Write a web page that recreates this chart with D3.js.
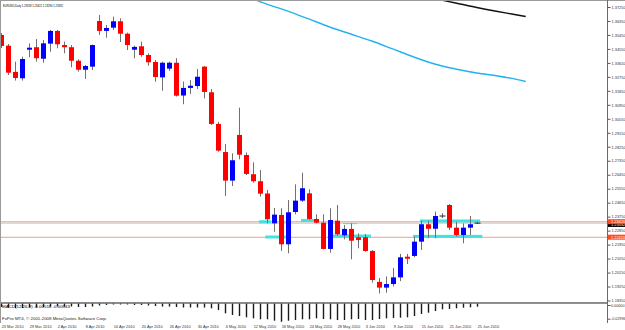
<!DOCTYPE html>
<html><head><meta charset="utf-8">
<script src="https://cdn.jsdelivr.net/npm/d3@7/dist/d3.min.js"></script>
<style>
html,body{margin:0;padding:0;background:#fff;}
svg{display:block;font-family:"Liberation Sans",Arial,sans-serif;}
</style></head><body>
<svg id="c" width="625" height="330"></svg>
<script>
const titleText = "EURUSD,Daily";
const lastOHLC = ["1.23318","1.23422","1.23294","1.23332"];
const copyright = "FxPro MT4, \u00A9 2001-2008 MetaQuotes Software Corp.";
const subTitle = "MACD(12,26,9) -0.00518 -0.00943";

const dates = ["23 Mar 2010","24 Mar 2010","25 Mar 2010","26 Mar 2010","29 Mar 2010","30 Mar 2010","31 Mar 2010",
"1 Apr 2010","2 Apr 2010","5 Apr 2010","6 Apr 2010","7 Apr 2010","8 Apr 2010","9 Apr 2010","12 Apr 2010","13 Apr 2010",
"14 Apr 2010","15 Apr 2010","16 Apr 2010","19 Apr 2010","20 Apr 2010","21 Apr 2010","22 Apr 2010","23 Apr 2010",
"26 Apr 2010","27 Apr 2010","28 Apr 2010","29 Apr 2010","30 Apr 2010",
"3 May 2010","4 May 2010","5 May 2010","6 May 2010","7 May 2010","10 May 2010","11 May 2010","12 May 2010",
"13 May 2010","14 May 2010","17 May 2010","18 May 2010","19 May 2010","20 May 2010","21 May 2010","24 May 2010",
"25 May 2010","26 May 2010","27 May 2010","28 May 2010","31 May 2010",
"1 Jun 2010","2 Jun 2010","3 Jun 2010","4 Jun 2010","7 Jun 2010","8 Jun 2010","9 Jun 2010","10 Jun 2010",
"11 Jun 2010","14 Jun 2010","15 Jun 2010","16 Jun 2010","17 Jun 2010","18 Jun 2010","21 Jun 2010","22 Jun 2010",
"23 Jun 2010","24 Jun 2010","25 Jun 2010"];

const open  = [1.3545,1.3476,1.3307,1.3266,1.3450,1.3466,1.3392,1.3489,1.3571,1.3480,
1.3466,1.3379,1.3321,1.3341,1.3635,1.3571,1.3592,1.3633,1.3553,1.3450,
1.3472,1.3416,1.3371,1.3272,1.3328,1.3366,1.3155,1.3204,1.3216,1.3341,
1.3176,1.2972,1.2791,1.2607,1.2901,1.2772,1.2648,1.2603,1.2524,1.2332,
1.2386,1.2197,1.2405,1.2478,1.2525,1.2360,1.2336,1.2167,1.2349,1.2255,
1.2296,1.2242,1.2242,1.2154,1.1955,1.1918,1.1941,1.1984,1.2117,1.2122,
1.2214,1.2326,1.2297,1.2379,1.2450,1.2304,1.2257,1.2304,1.23318];
const high  = [1.3558,1.3487,1.3373,1.3405,1.3491,1.3519,1.3513,1.3577,1.3577,1.3502,
1.3480,1.3388,1.3352,1.3483,1.3674,1.3609,1.3663,1.3652,1.3560,1.3476,
1.3502,1.3427,1.3384,1.3373,1.3373,1.3395,1.3245,1.3255,1.3326,1.3345,
1.3197,1.2985,1.2843,1.2783,1.3077,1.2789,1.2725,1.2675,1.2547,1.2431,
1.2429,1.2482,1.2583,1.2658,1.2551,1.2390,1.2390,1.2429,1.2450,1.2321,
1.2332,1.2268,1.2263,1.2160,1.1980,1.1990,1.2045,1.2135,1.2135,1.2246,
1.2349,1.2349,1.2407,1.2397,1.2456,1.2342,1.2332,1.2379,1.23422];
const low   = [1.3461,1.3287,1.3251,1.3251,1.3401,1.3373,1.3366,1.3437,1.3459,1.3427,
1.3337,1.3309,1.3262,1.3319,1.3545,1.3527,1.3577,1.3500,1.3448,1.3395,
1.3405,1.3347,1.3244,1.3186,1.3313,1.3148,1.3099,1.3165,1.3197,1.3136,
1.2965,1.2793,1.2508,1.2572,1.2744,1.2643,1.2594,1.2504,1.2332,1.2278,
1.2154,1.2139,1.2390,1.2470,1.2353,1.2332,1.2165,1.2143,1.2252,1.2229,
1.2100,1.2171,1.2149,1.1950,1.1880,1.1885,1.1925,1.1960,1.2070,1.2113,
1.2160,1.2236,1.2236,1.2366,1.2289,1.2246,1.2203,1.2257,1.23294];
const close = [1.3474,1.3302,1.3268,1.3390,1.3463,1.3395,1.3491,1.3571,1.3485,1.3466,
1.3379,1.3321,1.3345,1.3480,1.3571,1.3590,1.3633,1.3553,1.3480,1.3468,
1.3416,1.3369,1.3274,1.3366,1.3366,1.3154,1.3204,1.3218,1.3276,1.3178,
1.2972,1.2800,1.2607,1.2738,1.2774,1.2650,1.2603,1.2523,1.2358,1.2388,
1.2197,1.2403,1.2478,1.2558,1.2360,1.2336,1.2167,1.2353,1.2261,1.2296,
1.2220,1.2225,1.2154,1.1967,1.1918,1.1941,1.1984,1.2113,1.2104,1.2214,
1.2326,1.2297,1.2379,1.2379,1.2304,1.2257,1.2304,1.2326,1.23332];

const macd = [-0.0057,-0.0065,-0.0073,-0.0073,-0.0065,-0.0065,-0.0057,-0.0049,-0.0049,-0.0049,
-0.0049,-0.0057,-0.0057,-0.0049,-0.0032,-0.0024,-0.0016,-0.0016,-0.0016,-0.0024,
-0.0024,-0.0032,-0.0041,-0.0049,-0.0049,-0.0057,-0.0065,-0.0065,-0.0065,-0.0065,
-0.0078,-0.0105,-0.0159,-0.0186,-0.0203,-0.0224,-0.0240,-0.0256,-0.0256,-0.0279,
-0.0295,-0.0279,-0.0268,-0.0256,-0.0256,-0.0240,-0.0251,-0.0256,-0.0268,-0.0268,
-0.0256,-0.0251,-0.0268,-0.0268,-0.0251,-0.0240,-0.0235,-0.0230,-0.0224,-0.0203,
-0.0170,-0.0149,-0.0122,-0.0094,-0.0089,-0.0078,-0.0068,-0.0062,-0.0052];

const maFastIdx = [35,38,41,44,47,50,53,56,59,62,65,68,71,73,75];
const maFast    = [1.3796,1.3744,1.3699,1.3648,1.3596,1.3551,1.3506,1.3455,1.3403,1.3358,1.3326,1.3300,1.3281,1.3265,1.3245];
const maSlowIdx = [62,65,68,71,73,75];
const maSlow    = [1.3777,1.3751,1.3722,1.3696,1.3680,1.3664];

const zoneStart = [36.9,37.8,42.9,47.3,58.9,59.9];
const zoneEnd   = [38.6,40.7,45.3,52.9,68.8,68.5];
const zonePrice = [1.2342,1.2244,1.2350,1.2250,1.2248,1.2347];
const thinZoneStart = [48.9], thinZoneEnd = [50.9], thinZonePrice = [1.2330];

const levelPrices = [1.23420, 1.22420];
const levelLabels = ["1.23420","1.22420"];
const bidPrice = 1.23332;

const priceTicks = [1.18350,1.19250,1.20150,1.21050,1.21950,1.22850,1.23750,1.24650,1.25550,1.26450,
1.27350,1.28250,1.29150,1.30050,1.30950,1.31850,1.32750,1.33650,1.34550,1.35450,1.36350,1.37250];
const dateTicks = [0,4,8,12,16,20,24,28,32,36,40,44,48,52,56,60,64,68];
const macdTickLabels = ["0.00000","-0.02996"];
const macdTickValues = [0,-0.02996];

const svg = d3.select("#c");
const plotR = 607, plotB = 302;
const FS = 3.9;

const x = d3.scaleLinear().domain([0,68]).range([0.7,476.7]);
const y = d3.scaleLinear().domain([1.1835,1.3725]).range([300.5,7]);
const ym = d3.scaleLinear().domain([-0.0300,0]).range([322,303.5]);

svg.append("defs").append("clipPath").attr("id","pc")
  .append("rect").attr("x",0).attr("y",0).attr("width",plotR).attr("height",plotB);

const g = svg.append("g").attr("clip-path","url(#pc)");

// horizontal levels
g.selectAll("line.lvl").data(levelPrices).join("line")
  .attr("x1",0).attr("x2",plotR).attr("y1",d=>y(d)).attr("y2",d=>y(d))
  .attr("stroke","#F6A07C").attr("stroke-width",1);
g.append("line").attr("x1",0).attr("x2",plotR).attr("y1",y(bidPrice)).attr("y2",y(bidPrice))
  .attr("stroke","#b4b4b4").attr("stroke-width",0.8);

// cyan zones
g.selectAll("rect.zone").data(zonePrice).join("rect")
  .attr("x",(d,i)=>x(zoneStart[i])).attr("width",(d,i)=>x(zoneEnd[i])-x(zoneStart[i]))
  .attr("y",d=>y(d)-1.5).attr("height",3).attr("fill","#3FE3E3");
g.selectAll("line.thz").data(thinZonePrice).join("line")
  .attr("x1",(d,i)=>x(thinZoneStart[i])).attr("x2",(d,i)=>x(thinZoneEnd[i]))
  .attr("y1",d=>y(d)).attr("y2",d=>y(d)).attr("stroke","#3FE3E3").attr("stroke-width",1);

// moving averages
const lineGen = d3.line().curve(d3.curveMonotoneX);
g.append("path").attr("d",lineGen(maFastIdx.map((d,i)=>[x(d),y(maFast[i])])))
  .attr("fill","none").attr("stroke","#22B2F2").attr("stroke-width",1.4);
g.append("path").attr("d",lineGen(maSlowIdx.map((d,i)=>[x(d),y(maSlow[i])])))
  .attr("fill","none").attr("stroke","#111").attr("stroke-width",1.4);

// candles
const idx = d3.range(dates.length);
g.selectAll("line.wick").data(idx).join("line")
  .attr("x1",i=>Math.round(x(i))+0.5).attr("x2",i=>Math.round(x(i))+0.5)
  .attr("y1",i=>y(high[i])).attr("y2",i=>y(low[i]))
  .attr("stroke","#707070").attr("stroke-width",1);
idx.forEach(i=>{
  const cx = Math.round(x(i))+0.5;
  const o=open[i], c=close[i];
  if (Math.abs(c-o) < 0.0002) {
    g.append("line").attr("x1",cx-3).attr("x2",cx+3).attr("y1",y(c)).attr("y2",y(c))
      .attr("stroke","#222").attr("stroke-width",1);
  } else {
    const top = y(Math.max(o,c)), bot = y(Math.min(o,c));
    g.append("rect").attr("x",cx-2.5).attr("width",5).attr("y",top).attr("height",Math.max(1,bot-top))
      .attr("fill", c>o ? "#0000FF" : "#FF0000");
  }
});

// title
svg.append("text").attr("x",3).attr("y",6.5).attr("font-size",FS).attr("fill","#000")
  .attr("textLength",60).attr("lengthAdjust","spacingAndGlyphs")
  .text(titleText+"  "+lastOHLC.join(" "));

// separator
svg.append("line").attr("x1",0).attr("x2",plotR).attr("y1",302.5).attr("y2",302.5)
  .attr("stroke","#8a8a8a").attr("stroke-width",1);

// macd histogram
svg.append("g").selectAll("rect").data(idx).join("rect")
  .attr("x",i=>Math.round(x(i))-0.2).attr("width",1.4)
  .attr("y",ym(0)).attr("height",i=>ym(macd[i])-ym(0))
  .attr("fill","#1a1a1a");
svg.append("line").attr("x1",0).attr("x2",plotR).attr("y1",ym(0)).attr("y2",ym(0))
  .attr("stroke","#444").attr("stroke-width",0.6);

svg.append("text").attr("x",2).attr("y",307.8).attr("font-size",FS)
  .attr("textLength",68).attr("lengthAdjust","spacingAndGlyphs").text(subTitle);
svg.append("text").attr("x",2).attr("y",320).attr("font-size",FS)
  .attr("textLength",105).attr("lengthAdjust","spacingAndGlyphs").attr("fill","#222").text(copyright);

// frame
svg.append("line").attr("x1",0).attr("x2",625).attr("y1",0.5).attr("y2",0.5).attr("stroke","#9a9a9a");
svg.append("line").attr("x1",0.5).attr("x2",0.5).attr("y1",0).attr("y2",323).attr("stroke","#9a9a9a");
svg.append("line").attr("x1",plotR+0.5).attr("x2",plotR+0.5).attr("y1",0).attr("y2",323).attr("stroke","#6a6a6a");

// right price axis
const ay = svg.append("g").attr("transform",`translate(${plotR+0.5},0)`)
  .call(d3.axisRight(y).tickValues(priceTicks).tickFormat(d3.format(".5f")).tickSize(3).tickPadding(1));
ay.select(".domain").remove();
ay.selectAll("line").attr("stroke","#555");
ay.selectAll("text").attr("font-size",FS).attr("fill","#333").attr("font-family","Liberation Sans");

// price labels (bid label partly hidden under the level label, as in the reference)
svg.append("rect").attr("x",plotR+1).attr("y",y(bidPrice)-1.2).attr("width",18).attr("height",5).attr("fill","#000");
svg.append("text").attr("x",plotR+4).attr("y",y(bidPrice)+3.2).attr("font-size",FS).attr("fill","#fff").text("1.23332");
levelPrices.forEach((p,i)=>{
  svg.append("rect").attr("x",plotR+1).attr("y",y(p)-2.6).attr("width",18).attr("height",5).attr("fill","#FF4A22");
  svg.append("text").attr("x",plotR+4).attr("y",y(p)+1.3).attr("font-size",FS).attr("fill","#fff").text(levelLabels[i]);
});

// macd axis labels
macdTickValues.forEach((v,i)=>{
  const yy = i===0 ? ym(v)+3.3 : ym(v)-1.5;
  svg.append("line").attr("x1",plotR+0.5).attr("x2",plotR+3.5).attr("y1",yy-1.3).attr("y2",yy-1.3).attr("stroke","#555");
  svg.append("text").attr("x",plotR+4).attr("y",yy).attr("font-size",FS).attr("fill","#333")
    .attr("textLength",i===0?13.5:14.5).attr("lengthAdjust","spacingAndGlyphs").text(macdTickLabels[i]);
});

// bottom date axis
const ax = svg.append("g").attr("transform","translate(0,323)")
  .call(d3.axisBottom(x).tickValues(dateTicks).tickFormat(i=>dates[i]).tickSize(0).tickPadding(0));
ax.select(".domain").remove();
ax.selectAll("text").attr("font-size",FS).attr("fill","#333").attr("text-anchor","start")
  .attr("dy",0).attr("y",5).attr("x",0.5).attr("font-family","Liberation Sans");
</script>
</body></html>
